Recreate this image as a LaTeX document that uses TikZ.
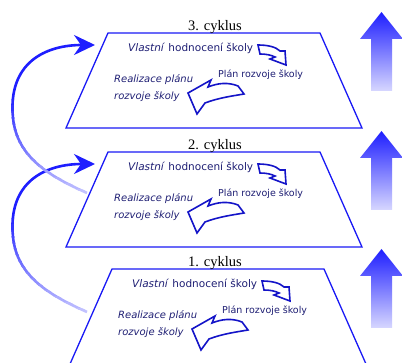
\documentclass[tikz,border=0pt]{standalone}
\usepackage{fontspec}
\setmainfont{Liberation Serif}
\newfontfamily\bezpatky{DejaVu Sans}
\usetikzlibrary{arrows.meta}
\definecolor{modra}{RGB}{25,25,245}
\definecolor{tmava}{RGB}{30,30,115}
\definecolor{obrys}{RGB}{20,20,200}
\definecolor{sipkahore}{RGB}{30,30,255}
\definecolor{sipkadole}{RGB}{215,215,255}
\begin{document}
\begin{tikzpicture}[x=1pt, y=-1pt,
  cyklus/.style={font=\fontsize{14.5}{16}\selectfont, inner sep=0pt},
  popis/.style={text=tmava, inner sep=0pt, anchor=west},
  plocha/.style={draw=modra, line width=1.3pt},
  obrat/.style={draw=obrys, line width=1.6pt, fill=white, line join=miter},
  oblouk/.style={line width=2.6pt, -{Stealth[length=21pt, width=20pt, inset=7pt]}}
]
\useasboundingbox (0,0) rectangle (402,363);
\clip (0,0) rectangle (402,363);

% sipky vpravo
\foreach \dy in {0,119,237}{
  \shade[top color=sipkahore, bottom color=sipkadole, shift={(0,\dy)}]
    (381.5,12) -- (403,39) -- (392,39) -- (392,91) -- (371,91) -- (371,39) -- (360,39) -- cycle;
}

% jednotlive cykly
\foreach \dx/\dy/\n in {0/0/3, 0/119/2, 4/236/1}{
  \begin{scope}[shift={(\dx,\dy)}]
    \draw[plocha] (108,33) -- (320,33) -- (362,128) -- (66,128) -- cycle;
    \node[cyklus] (nazev\n) at ({215-\dx},27) {\n. cyklus};
    \node[popis, font={\bezpatky\fontsize{10.5}{12}\selectfont}] (hodnoceni\n) at (128,48)
      {\textit{Vlastní} hodnocení školy};
    \node[popis, font={\bezpatky\fontsize{9.5}{12}\selectfont}] (plan\n) at (218,75)
      {Plán rozvoje školy};
    \node[popis, align=left, font={\bezpatky\itshape\fontsize{10}{17}\selectfont}] (realizace\n) at (114,88.5)
      {Realizace plánu\\rozvoje školy};
    \draw[obrat] (258,45) .. controls (268,45) and (276,47) .. (280,51) -- (285,51)
      -- (286,65) -- (270,59) -- (275,57) .. controls (271,55) and (266,54) .. (260,54) -- cycle;
    \draw[obrat] (188,93) -- (211,80) -- (208,87) .. controls (218,83) and (228,82) .. (238,86)
      -- (244,94) .. controls (232,96) and (218,98) .. (205,103) -- (197,114) -- cycle;
  \end{scope}
}

% oblouky do dalsiho cyklu
\foreach \dy in {119,0}{
  \begin{scope}[shift={(0,\dy)}]
    \coordinate (start) at (87,193);
    \coordinate (cil) at (95,45);
    \begin{scope}
      \clip (0,0) rectangle (110,100);
      \draw[oblouk, sipkahore] (start) .. controls (50.6,176.6) and (17,158) .. (13,118)
        .. controls (7.5,63) and (45,45) .. (cil);
    \end{scope}
    \foreach \k in {0,...,16}{
      \pgfmathsetmacro\ya{100+6*\k}
      \pgfmathsetmacro\sila{95-72*\k/16}
      \begin{scope}
        \clip (0,\ya-0.3) rectangle (110,\ya+6.3);
        \draw[oblouk, sipkahore!\sila!white] (start) .. controls (50.6,176.6) and (17,158) .. (13,118)
          .. controls (7.5,63) and (45,45) .. (cil);
      \end{scope}
    }
  \end{scope}
}
\end{tikzpicture}
\end{document}
